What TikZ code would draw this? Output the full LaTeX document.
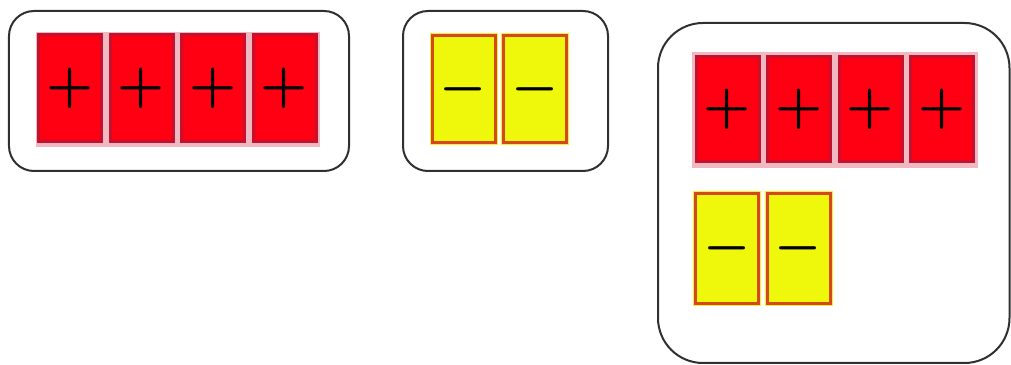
\documentclass[tikz,border=0pt]{standalone}
\definecolor{tilered}{HTML}{FF0012}
\definecolor{tileredrim}{HTML}{C4122E}
\definecolor{tilepink}{HTML}{F0B8C0}
\definecolor{tileyellow}{HTML}{EFF70A}
\definecolor{tileyellowrim}{HTML}{D4491C}
\definecolor{tilehalo}{HTML}{F2EE3A}
\definecolor{framegray}{HTML}{303030}
\begin{document}
\begin{tikzpicture}[
    frame/.style={draw=framegray,line width=0.04cm},
    tilebase/.style={rectangle,minimum width=1.26cm,minimum height=2.14cm,
      inner sep=0pt,line width=0.06cm,font=\boldmath},
    redtile/.style={tilebase,fill=tilered,draw=tileredrim,
      preaction={draw=tilepink,line width=0.1cm}},
    yellowtile/.style={tilebase,fill=tileyellow,draw=tileyellowrim,
      preaction={draw=tilehalo,line width=0.1cm}}]
        \useasboundingbox (0,0) rectangle (20.22,7.30);
        
        % Four positive tiles in the first frame
        \draw[frame,rounded corners=0.5cm] (0.18,3.88) rectangle (6.98,7.08);
        \fill[tilepink] (0.72,4.36) rectangle (6.40,6.66);
        \foreach \i/\x in {1/1.40,2/2.83,3/4.26,4/5.69}{% one tile per step
            \node[redtile] (posA\i) at (\x,5.54) {\scalebox{3}{$+$}};
        }
        
        % Two negative tiles in the second frame
        \draw[frame,rounded corners=0.5cm] (8.06,3.88) rectangle (12.16,7.08);
        \foreach \i/\x in {1/9.27,2/10.70}{%
            \node[yellowtile] (negA\i) at (\x,5.52) {\scalebox{3}{$-$}};
        }
        
        % Both sets together in the big frame
        \draw[frame,rounded corners=0.9cm] (13.16,0.04) rectangle (20.19,6.84);
        \fill[tilepink] (13.84,3.94) rectangle (19.56,6.26);
        \foreach \i/\x in {1/14.55,2/15.98,3/17.41,4/18.84}{%
            \node[redtile,minimum height=2.10cm] (posB\i) at (\x,5.12) {\scalebox{3}{$+$}};
        }
        \foreach \i/\x in {1/14.54,2/15.97}{%
            \node[yellowtile,minimum height=2.20cm] (negB\i) at (\x,2.33) {\scalebox{3}{$-$}};
        }
        
\end{tikzpicture}
\end{document}
